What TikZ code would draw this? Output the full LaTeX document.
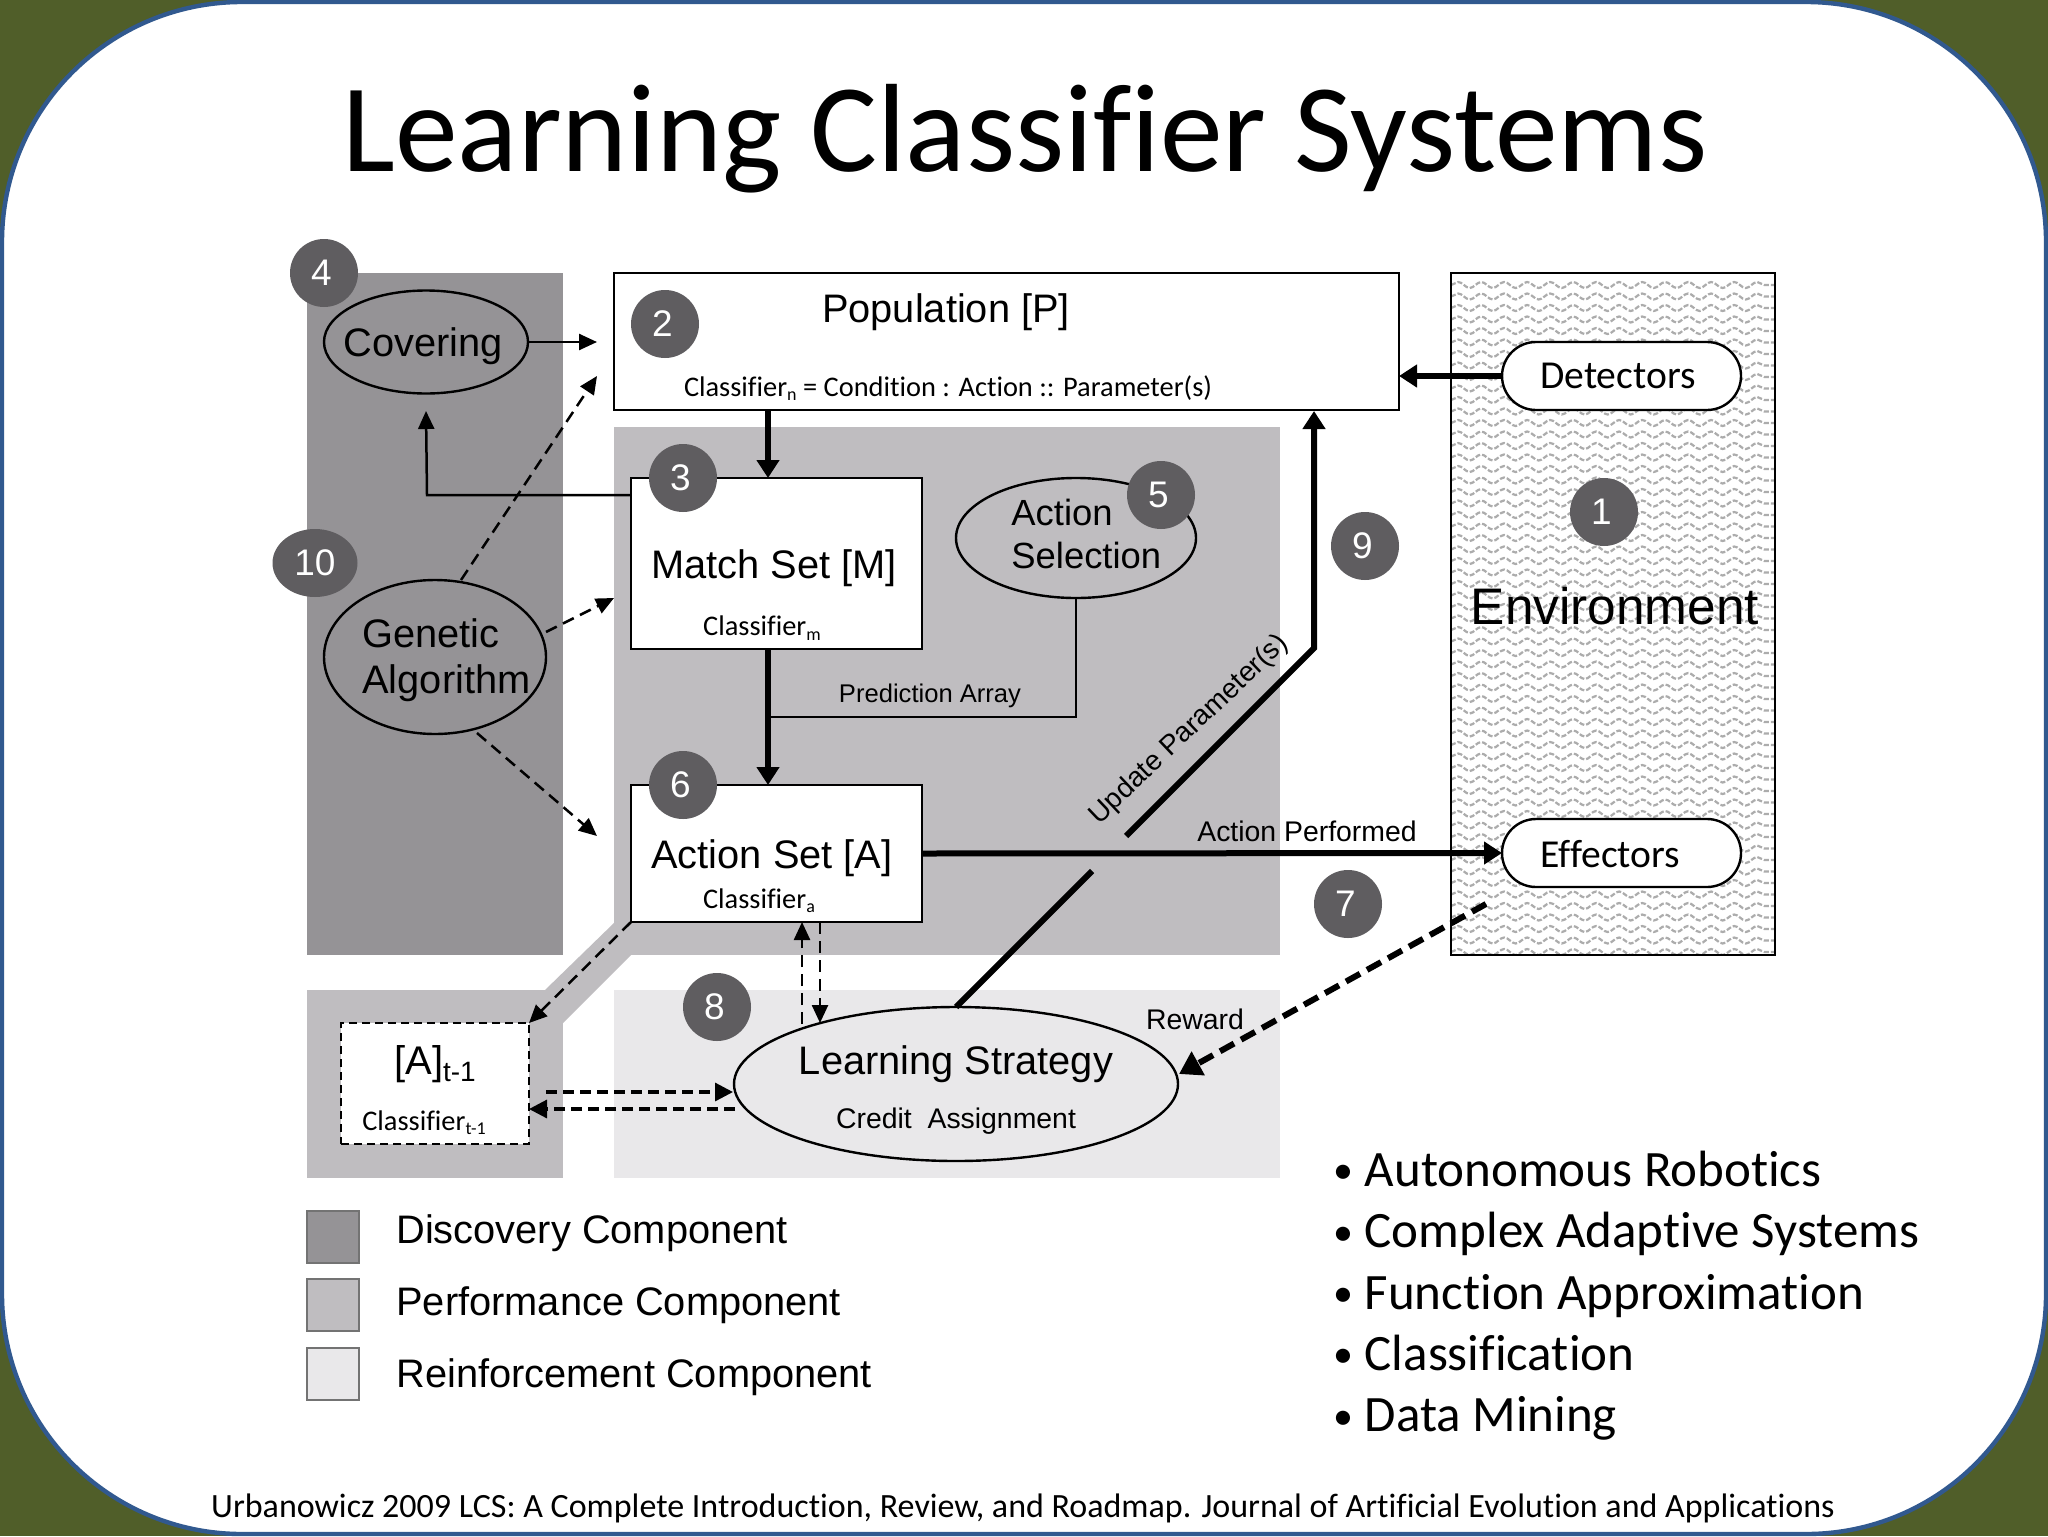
\documentclass[tikz,border=0pt]{standalone}
\usepackage{fontspec}
\setmainfont{Liberation Sans}
\newfontfamily\calib{Carlito}[Ligatures=CommonOff]
\usetikzlibrary{arrows.meta,shapes.geometric,decorations.pathmorphing}
\definecolor{bggreen}{HTML}{505E29}
\definecolor{frameblue}{HTML}{31598F}
\definecolor{discov}{HTML}{959396}
\definecolor{perf}{HTML}{BFBDC0}
\definecolor{reinf}{HTML}{E9E8EA}
\definecolor{badge}{HTML}{5F5D60}
\definecolor{wave}{HTML}{ACACAC}
\newcommand{\fs}[1]{\fontsize{#1}{#1}\selectfont}
\newcommand{\subs}[1]{\raisebox{-0.32ex}{\fs{9}#1}}
\newcommand{\bd}[1]{#1\kern2.5pt}
\newcommand{\bl}{\raisebox{1.2pt}{\fs{20}•}\kern5.7pt}
\tikzset{
  x=0.5pt,y=-0.5pt,
  box/.style={draw=black,line width=1.2pt,fill=white,inner sep=0,outer sep=0},
  oval/.style={ellipse,draw=black,line width=1.2pt,inner sep=0,outer sep=0},
  pill/.style={rectangle,rounded corners=17pt,draw=black,line width=1.2pt,fill=white,inner sep=0,outer sep=0},
  badgec/.style={ellipse,fill=badge,text=white,minimum width=34pt,minimum height=34pt,inner sep=0,font=\fs{18.5}},
  lab/.style={inner sep=0,font=\fs{19.9},text=black},
  small/.style={inner sep=0,font=\fs{14.2},text=black},
  cal/.style={inner sep=0,font=\calib\fs{14.2},text=black},
  thin/.style={draw=black,line width=1.25pt},
  tiph/.style={-{Triangle[length=9pt,width=8pt]}},
  thick6/.style={draw=black,line width=3pt},
  thickarr/.style={thick6,line join=miter,-{Triangle[length=9pt,width=11pt]}},
  dsh/.style={draw=black,line width=1.25pt,dash pattern=on 6pt off 3.5pt,tiph},
  dshb/.style={draw=black,line width=1.6pt,dash pattern=on 5.5pt off 3pt,-{Triangle[length=9pt,width=9pt]}},
  legbox/.style={draw=black!55,line width=0.8pt,minimum width=26pt,minimum height=26pt,inner sep=0,outer sep=0,anchor=north west},
  bul/.style={inner sep=0,anchor=base west,font=\calib\fs{25.5}},
}
\begin{document}
\begin{tikzpicture}
\useasboundingbox (0,0) rectangle (2048,1536);
\fill[bggreen] (0,0) rectangle (2048,1536);
\draw[frameblue,line width=2.2pt,fill=white,rounded corners=120pt] (2,2) rectangle (2046,1534);

\node[anchor=center,inner sep=0,font=\calib\fs{62.8}] (title) at (1025,139) {Learning Classifier Systems};

% panels
\fill[discov] (307,273) rectangle (563,955);
\fill[perf] (614,427) rectangle (1280,955);
\fill[perf] (615,922) -- (545,990) -- (563,1023) -- (631,955) -- cycle;
\fill[perf] (307,990) rectangle (563,1178);
\fill[reinf] (614,990) rectangle (1280,1178);

% environment
\begin{scope}
\clip (1451,273) rectangle (1775,955);
\fill[white] (1451,273) rectangle (1775,955);
\foreach \r in {0,...,59}{
  \draw[wave,line width=1.1pt,dash pattern=on 2.5pt off 1pt,
    decorate,decoration={snake,segment length=11.5pt,amplitude=1.5pt}]
    (1451,{285+11.5*\r}) -- (1775,{285+11.5*\r});
}
\end{scope}
\node[draw=black,line width=1.2pt,inner sep=0,outer sep=0,minimum width=162pt,minimum height=341pt,anchor=north west] (env) at (1451,273) {};

% main boxes
\node[box,minimum width=392.5pt,minimum height=68.5pt,anchor=north west] (pop) at (614,273) {};
\node[box,minimum width=145.5pt,minimum height=85.5pt,anchor=north west] (match) at (631,478) {};
\node[box,minimum width=145.5pt,minimum height=68.5pt,anchor=north west] (act) at (631,785) {};
\node[box,dash pattern=on 4pt off 2.5pt,minimum width=94pt,minimum height=60.5pt,anchor=north west] (prev) at (341,1023) {};
\node[pill,minimum width=119.5pt,minimum height=34pt,anchor=north west] (det) at (1502,342) {};
\node[pill,minimum width=119.5pt,minimum height=34pt,anchor=north west] (eff) at (1502,819) {};
\node[oval,fill=discov,minimum width=102pt,minimum height=51.5pt] (cov) at (426,342) {};
\node[oval,fill=discov,minimum width=111pt,minimum height=77pt] (ga) at (435,657) {};
\node[oval,fill=perf,minimum width=120pt,minimum height=60pt] (sel) at (1076,538) {};
\node[oval,fill=reinf,minimum width=222pt,minimum height=77pt] (ls) at (956,1084) {};

% free ends
\coordinate (covend) at (597,342);
\coordinate (gastartA) at (461,580);
\coordinate (gastartB) at (546,632);
\coordinate (gastartC) at (477,733);
\coordinate (gapop) at (597,376);
\coordinate (gamatch) at (614,598);
\coordinate (gaact) at (597,836);
\coordinate (cova) at (426,411);
\coordinate (corner) at (427,495);
\coordinate (predcorner) at (1076,717);
\coordinate (predend) at (768,717);
\coordinate (upA) at (1092,871);
\coordinate (upB) at (1126,836);
\coordinate (upC) at (1314,648);
\coordinate (upD) at (1314,411);
\coordinate (rewstart) at (1486,904);
\coordinate (rewend) at (1179,1074);
\coordinate (upS) at (802,1024);
\coordinate (upE) at (802,922);
\coordinate (dnS) at (820,922);
\coordinate (dnE) at (820,1023);
\coordinate (lrS) at (546,1092);
\coordinate (lrE) at (733,1092);
\coordinate (rlS) at (735,1109);
\coordinate (rlE) at (529,1109);
\coordinate (popm) at (768,410);
\coordinate (matt) at (768,478);
\coordinate (matb) at (768,649);
\coordinate (actt) at (768,785);

% connectors
\draw[thin,tiph] (cov.east) -- (covend);
\draw[thin,tiph] (match.west |- corner) -- (corner) -- (cova);
\draw[dsh] (gastartA) -- (gapop);
\draw[dsh] (gastartB) -- (gamatch);
\draw[dsh] (gastartC) -- (gaact);
\draw[thickarr] (popm) -- (matt);
\draw[thickarr] (matb) -- (actt);
\draw[thin] (sel.south) -- (predcorner) -- (predend);
\draw[thickarr] (det.west) -- (pop.east |- det.west);
\draw[thickarr] (act.east) -- (eff.west);
\draw[thick6] (ls.north) -- (upA);
\draw[thickarr] (upB) -- (upC) -- (upD);
\draw[draw=black,line width=3pt,dash pattern=on 8pt off 4pt,-{Triangle[length=11pt,width=13pt]}] (rewstart) -- (rewend);
\draw[dsh] (upS) -- (upE);
\draw[dsh] (dnS) -- (dnE);
\draw[dsh] (631,922) -- (prev.north east);
\draw[dshb] (lrS) -- (lrE);
\draw[dshb] (rlS) -- (rlE);

% text
\node[lab] (t1) at (946,312) {Population [P]};
\node[cal] (t2) at (948,388) {Classifier\subs{n} = Condition : Action :: Parameter(s)};
\node[lab] (t3) at (774,568) {Match Set [M]};
\node[cal] (t4) at (762,628) {Classifier\subs{m}};
\node[lab] (t5) at (772,858) {Action Set [A]};
\node[cal] (t6) at (759,901) {Classifier\subs{a}};
\node[lab] (t7) at (423,346) {Covering};
\node[lab,anchor=west] (t8) at (362,633) {Genetic};
\node[lab,anchor=west] (t9) at (362,683) {Algorithm};
\node[lab,font=\fs{18.2},anchor=west] (t10) at (1011,512) {Action};
\node[lab,font=\fs{18.2},anchor=west] (t11) at (1011,555) {Selection};
\node[small,font=\fs{12.8}] (t12) at (930,696) {Prediction Array};
\node[inner sep=0,font=\fs{25.7}] (t13) at (1615,606) {Environment};
\node[cal,font=\calib\fs{19.8}] (t14) at (1618,376) {Detectors};
\node[cal,font=\calib\fs{19.8},anchor=west] (t15) at (1540,854) {Effectors};
\node[lab] (t16) at (956,1064) {Learning Strategy};
\node[small] (t17) at (956,1121) {Credit\ \ Assignment};
\node[small] (t18) at (1195,1019) {Reward};
\node[small] (t19) at (1307,831) {Action Performed};
\node[small,rotate=43.5,font=\fs{14}] (t20) at (1189,730) {Update Parameter(s)};
\node[inner sep=0,font=\fs{20}] (t21) at (435,1064) {[A]\raisebox{-0.35ex}{\fs{14}t-1}};
\node[cal] (t22) at (424,1123) {Classifier\subs{t-1}};

% badges
\node[badgec] (b4) at (324,273) {\bd{4}};
\node[badgec] (b2) at (665,324) {\bd{2}};
\node[badgec] (b3) at (683,478) {\bd{3}};
\node[badgec] (b5) at (1161,495) {\bd{5}};
\node[badgec,minimum width=42.5pt] (b10) at (315,563) {10};
\node[badgec] (b6) at (683,785) {\bd{6}};
\node[badgec] (b1) at (1604,512) {\bd{1}};
\node[badgec] (b9) at (1365,546) {\bd{9}};
\node[badgec] (b7) at (1348,904) {\bd{7}};
\node[badgec] (b8) at (717,1007) {\bd{8}};

% legend
\node[legbox,fill=discov] (l1) at (307,1211) {};
\node[legbox,fill=perf] (l2) at (307,1279) {};
\node[legbox,fill=reinf] (l3) at (307,1348) {};
\node[lab,anchor=west] (lt1) at (396,1233) {Discovery Component};
\node[lab,anchor=west] (lt2) at (396,1305) {Performance Component};
\node[lab,anchor=west] (lt3) at (396,1377) {Reinforcement Component};

% bullets
\node[bul] (u1) at (1333,1186) {\bl Autonomous Robotics};
\node[bul] (u2) at (1333,1247.5) {\bl Complex Adaptive Systems};
\node[bul] (u3) at (1333,1309) {\bl Function Approximation};
\node[bul] (u4) at (1333,1370) {\bl Classification};
\node[bul] (u5) at (1333,1431.5) {\bl Data Mining};

\node[inner sep=0,font=\calib\fs{17}] (ref) at (1023,1508) {Urbanowicz 2009 LCS: A Complete Introduction, Review, and Roadmap. Journal of Artificial Evolution and Applications};
\end{tikzpicture}
\end{document}
